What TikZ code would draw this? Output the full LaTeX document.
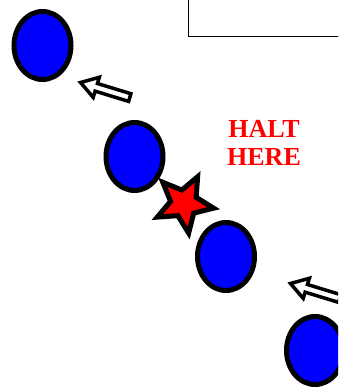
\documentclass[tikz,border=0pt]{standalone}
\usepackage{fontspec}
\setmainfont{Liberation Serif}
\usetikzlibrary{shapes.geometric}
\begin{document}
\begin{tikzpicture}[x=1pt,y=-1pt,
  dot/.style={ellipse, draw=black, fill=blue, line width=5pt, minimum width=57pt, minimum height=68pt, inner sep=0pt},
  hollowarrow/.style={draw=black, fill=white, line width=3.5pt, miter limit=10},
  halttext/.style={text=red, font=\fontsize{26}{27}\selectfont\bfseries, inner sep=0pt, anchor=base}]
\useasboundingbox (0,0) rectangle (338,387);
\clip (0,0) rectangle (338,387);
% box at top right
\draw[line width=1.3pt] (188.3,-5) -- (188.3,36.7) -- (345,36.7);
% ellipses
\node[dot] (e1) at (42.5,45.5) {};
\node[dot] (e2) at (134.5,156.5) {};
\node[dot] (e3) at (226,256.5) {};
\node[dot] (e4) at (315,350.5) {};
% hollow arrows
\begin{scope}[shift={(80.5,82.5)}, rotate=-17]
  \draw[hollowarrow] (0,0) -- (16.5,10.5) -- (16.5,4) -- (51.5,4) -- (51.5,-4) -- (16.5,-4) -- (16.5,-10.5) -- cycle;
\end{scope}
\begin{scope}[shift={(290.5,283.5)}, rotate=-17]
  \draw[hollowarrow] (0,0) -- (16.5,10.5) -- (16.5,4) -- (51.5,4) -- (51.5,-4) -- (16.5,-4) -- (16.5,-10.5) -- cycle;
\end{scope}
% star
\node[star, star points=5, star point ratio=2.2, minimum size=60pt, inner sep=0pt,
      draw=black, fill=red, line width=5pt, rotate=-27] (st) at (184,203.5) {};
% text
\node[halttext] (halt) at (264,137.7) {HALT};
\node[halttext] (here) at (264,165) {HERE};
\end{tikzpicture}
\end{document}
